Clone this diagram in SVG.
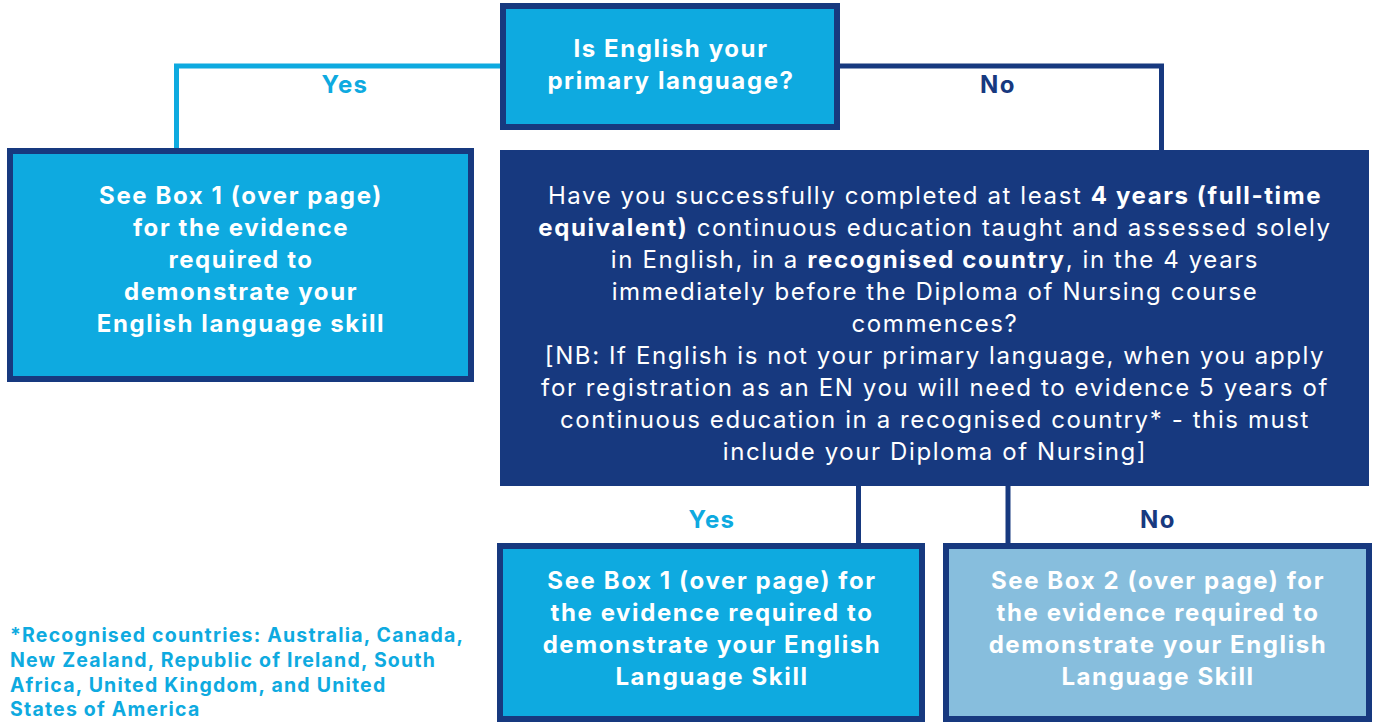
<svg xmlns="http://www.w3.org/2000/svg" width="1373" height="722" viewBox="0 0 1373 722">
<style>
.t{font-family:Inter,"Noto Sans","Liberation Sans",sans-serif;text-anchor:middle;}
.wb{fill:#ffffff;font-weight:700;font-size:24px;letter-spacing:1.6px;}
.wn{fill:#ffffff;font-weight:400;font-size:24px;letter-spacing:1.6px;}
.b{font-weight:700;}
.lab{font-weight:700;font-size:24px;letter-spacing:1.4px;}
.cy{fill:#0eaae0;}
.nv{fill:#17397f;}
.box{stroke:#17397f;stroke-width:6;}
.c1{fill:#0eaae0;}
.c2{fill:#87bedd;}
.line{fill:none;stroke-width:5;}
.foot{font-family:Inter,"Noto Sans","Liberation Sans",sans-serif;font-weight:700;font-size:19.5px;letter-spacing:1.2px;fill:#0eaae0;}
</style>
<rect width="1373" height="722" fill="#ffffff"/>
<g id="connectors">
<polyline class="line" stroke="#0eaae0" points="503,66 176.5,66 176.5,151"/>
<polyline class="line" stroke="#17397f" points="837,66 1161.5,66 1161.5,152"/>
<line class="line" stroke="#17397f" x1="858.5" y1="484" x2="858.5" y2="546"/>
<line class="line" stroke="#17397f" x1="1008" y1="484" x2="1008" y2="546"/>
<text class="t lab cy" x="345" y="93">Yes</text>
<text class="t lab nv" x="998" y="93">No</text>
<text class="t lab cy" x="712" y="528">Yes</text>
<text class="t lab nv" x="1158" y="528">No</text>
</g>
<g id="q1">
<rect class="box c1" x="503" y="6" width="334" height="121"/>
<text class="t wb" x="671" y="57">Is English your</text>
<text class="t wb" x="671" y="89">primary language?</text>
</g>
<g id="box1-left">
<rect class="box c1" x="10" y="151" width="461" height="228"/>
<text class="t wb" x="241" y="204">See Box 1 (over page)</text>
<text class="t wb" x="241" y="236">for the evidence</text>
<text class="t wb" x="241" y="268">required to</text>
<text class="t wb" x="241" y="300">demonstrate your</text>
<text class="t wb" x="241" y="332">English language skill</text>
</g>
<g id="q2">
<rect x="500" y="150" width="869" height="336" fill="#17397f"/>
<text class="t wn" x="935" y="204">Have you successfully completed at least <tspan class="b">4 years (full-time</tspan></text>
<text class="t wn" x="935" y="236"><tspan class="b">equivalent)</tspan> continuous education taught and assessed solely</text>
<text class="t wn" x="935" y="268">in English, in a <tspan class="b">recognised country</tspan>, in the 4 years</text>
<text class="t wn" x="935" y="300">immediately before the Diploma of Nursing course</text>
<text class="t wn" x="935" y="332">commences?</text>
<text class="t wn" x="935" y="364">[NB: If English is not your primary language, when you apply</text>
<text class="t wn" x="935" y="396">for registration as an EN you will need to evidence 5 years of</text>
<text class="t wn" x="935" y="428">continuous education in a recognised country* - this must</text>
<text class="t wn" x="935" y="460">include your Diploma of Nursing]</text>
</g>
<g id="box1-bottom">
<rect class="box c1" x="500" y="546" width="422" height="173"/>
<text class="t wb" x="712" y="589">See Box 1 (over page) for</text>
<text class="t wb" x="712" y="621">the evidence required to</text>
<text class="t wb" x="712" y="653">demonstrate your English</text>
<text class="t wb" x="712" y="685">Language Skill</text>
</g>
<g id="box2-bottom">
<rect class="box c2" x="946" y="546" width="423" height="173"/>
<text class="t wb" x="1158" y="589">See Box 2 (over page) for</text>
<text class="t wb" x="1158" y="621">the evidence required to</text>
<text class="t wb" x="1158" y="653">demonstrate your English</text>
<text class="t wb" x="1158" y="685">Language Skill</text>
</g>
<g id="footnote">
<text class="foot" x="10" y="642">*Recognised countries: Australia, Canada,</text>
<text class="foot" x="10" y="667">New Zealand, Republic of Ireland, South</text>
<text class="foot" x="10" y="692">Africa, United Kingdom, and United</text>
<text class="foot" x="10" y="716">States of America</text>
</g>
</svg>
